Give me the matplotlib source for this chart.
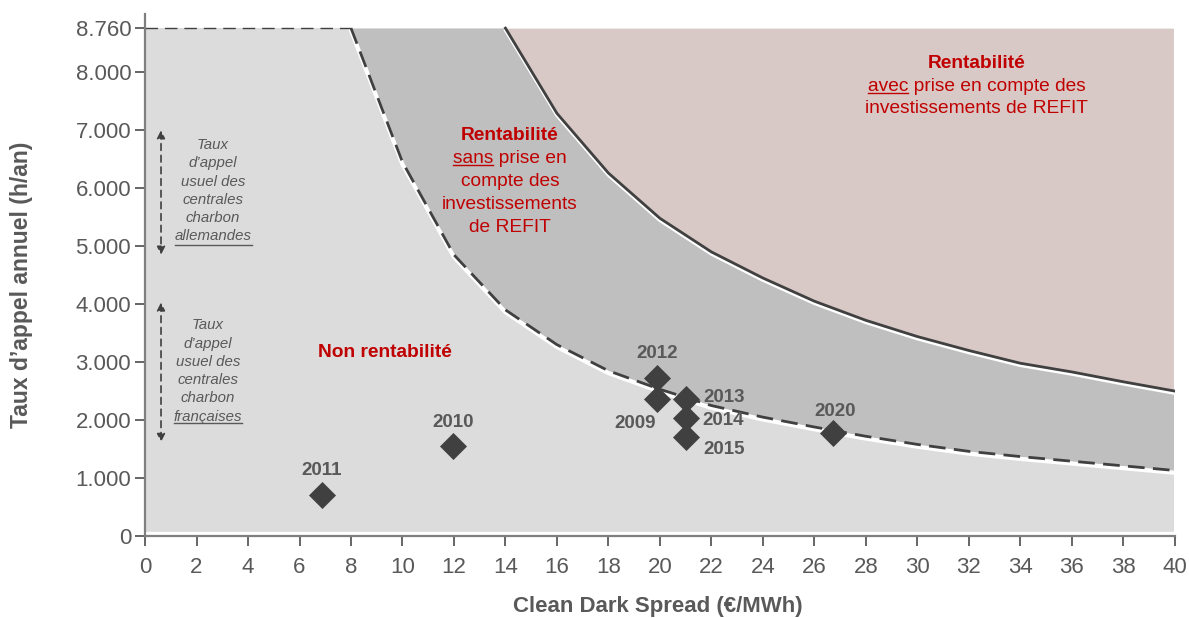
import numpy as np
import matplotlib.pyplot as plt

plt.rcParams['font.family'] = ['Liberation Sans', 'DejaVu Sans']

# seuil de rentabilite sans REFIT (courbe basse, pointillee)
x_low = [8, 10, 12, 14, 16, 18, 20, 22, 24, 26, 28, 30, 32, 34, 36, 38, 40]
y_low = [8760, 6450, 4850, 3900, 3300, 2850, 2530, 2250, 2050, 1880, 1720, 1580,
         1460, 1370, 1290, 1210, 1130]

# seuil avec REFIT (courbe haute, pleine)
x_up = [14, 16, 18, 20, 22, 24, 26, 28, 30, 32, 34, 36, 38, 40]
y_up = [8760, 7290, 6260, 5480, 4900, 4450, 4050, 3720, 3440, 3200, 2980, 2830,
        2660, 2500]

years = ['2011', '2010', '2012', '2009', '2013', '2014', '2015', '2020']
cds = [6.87, 11.96, 19.9, 19.9, 21.0, 21.0, 21.0, 26.73]
hours = [700, 1550, 2730, 2360, 2360, 2030, 1710, 1780]
# decalage des etiquettes (pixels)
lab_off = [(0, 25), (0, 24), (0, 24), (-22, -24), (38, 2), (37, -2), (38, -13), (2, 21)]

yticks = [0, 1000, 2000, 3000, 4000, 5000, 6000, 7000, 8000, 8760]
ytick_labels = ['0', '1.000', '2.000', '3.000', '4.000', '5.000', '6.000', '7.000',
                '8.000', '8.760']

dark = '#404040'
grey_txt = '#595959'
red = '#c00000'
hmax = 8760
ybot = 90
xmax = 39.95

fig = plt.figure(figsize=(11.89, 6.18), dpi=100)
ax = fig.add_axes([0.122, 0.1327, 0.866, 0.8443])
ax.set_xlim(0, 40)
ax.set_ylim(0, 9000)
renderer = fig.canvas.get_renderer()


def underlined_line(x, y, word, rest, **kw):
    # texte centre dont le premier mot est souligne
    t = ax.text(x, y, word + rest, ha='center', va='center', **kw)
    bb = t.get_window_extent(renderer)
    prop = t.get_fontproperties()
    w, _, _ = renderer.get_text_width_height_descent(word, prop, ismath=False)
    _, _, d = renderer.get_text_width_height_descent(word + rest, prop, ismath=False)
    inv = ax.transData.inverted()
    base = bb.y0 + d - 2
    (x0, y0), (x1, _) = inv.transform([(bb.x0, base), (bb.x0 + w, base)])
    ax.plot([x0, x1], [y0, y0], color=kw.get('color', 'k'), lw=1, zorder=6)


# zones
xx = np.linspace(0, xmax, 800)
low = np.interp(xx, x_low, y_low, left=hmax)
up = np.interp(xx, x_up, y_up, left=hmax)
ax.fill_between(xx, ybot, hmax, color='#d8c9c6', lw=0)
ax.fill_between(xx, ybot, up, color='#bfbfbf', lw=0)
ax.fill_between(xx, ybot, low, color='#dcdcdc', lw=0)

# courbes
ax.plot(np.array(x_up), np.array(y_up) - 40, color='white', lw=2.2)
ax.plot(x_up, y_up, color=dark, lw=2)
ax.plot(np.array(x_low), np.array(y_low) - 40, color='white', lw=3)
ax.plot(x_low, y_low, color=dark, lw=2, dashes=(6, 3))
ax.plot([0, 8], [hmax, hmax], color=dark, lw=1, dashes=(9, 5))

# points annuels
ax.scatter(cds, hours, marker='D', s=190, color=dark, zorder=5, lw=0)
for yr, x, y, off in zip(years, cds, hours, lab_off):
    ax.annotate(yr, (x, y), xytext=off, textcoords='offset pixels', ha='center',
                va='center', fontsize=13.5, fontweight='bold', color=grey_txt)

# textes des zones
fs = 13.8
ax.text(9.3, 3160, 'Non rentabilité', color=red, fontsize=fs, fontweight='bold',
        ha='center', va='center')
ax.text(14.17, 6914, 'Rentabilité', color=red, fontsize=fs, fontweight='bold',
        ha='center', va='center')
underlined_line(14.17, 6517, 'sans', ' prise en', color=red, fontsize=fs)
for txt, y in [('compte des', 6121), ('investissements', 5724), ('de REFIT', 5328)]:
    ax.text(14.17, y, txt, color=red, fontsize=fs, ha='center', va='center')
ax.text(32.3, 8155, 'Rentabilité', color=red, fontsize=fs, fontweight='bold',
        ha='center', va='center')
underlined_line(32.3, 7759, 'avec', ' prise en compte des', color=red, fontsize=fs)
ax.text(32.3, 7379, 'investissements de REFIT', color=red, fontsize=fs,
        ha='center', va='center')

# fleches des taux d'appel usuels
for y0, y1 in [(7000, 4850), (4030, 1620)]:
    ax.annotate('', xy=(0.62, y1), xytext=(0.62, y0),
                arrowprops=dict(arrowstyle='<|-|>', color=dark, lw=1.2, ls=(0, (4, 3)),
                                mutation_scale=12, shrinkA=0, shrinkB=0))

lines_common = ['Taux', 'd\u2019appel', 'usuel des', 'centrales', 'charbon']
for xc, ys, last in [(2.64, [6741, 6431, 6103, 5793, 5483, 5172], 'allemandes'),
                     (2.45, [3638, 3310, 3000, 2690, 2379, 2052], 'françaises')]:
    for txt, y in zip(lines_common, ys[:-1]):
        ax.text(xc, y, txt, color=grey_txt, fontsize=10.8, style='italic',
                ha='center', va='center')
    underlined_line(xc, ys[-1], last, '', color=grey_txt, fontsize=10.8, style='italic')

# axes
ax.set_xticks(np.arange(0, 41, 2))
ax.set_yticks(yticks)
ax.set_yticklabels(ytick_labels)
ax.tick_params(axis='both', colors=grey_txt, labelsize=16, length=7, width=1.3,
               direction='out')
ax.tick_params(axis='x', pad=8)
ax.tick_params(axis='y', pad=3)
for s in ['top', 'right']:
    ax.spines[s].set_visible(False)
for s in ['left', 'bottom']:
    ax.spines[s].set_color('#7f7f7f')
    ax.spines[s].set_linewidth(1.6)
ax.set_xlabel('Clean Dark Spread (€/MWh)', fontsize=16, fontweight='bold',
              color=grey_txt)
ax.set_ylabel('Taux d\u2019appel annuel (h/an)', fontsize=16.5, fontweight='bold',
              color=grey_txt)
ax.xaxis.set_label_coords(0.498, -0.115)
ax.yaxis.set_label_coords(-0.109, 0.481)

fig.savefig('out.png', dpi=100)
